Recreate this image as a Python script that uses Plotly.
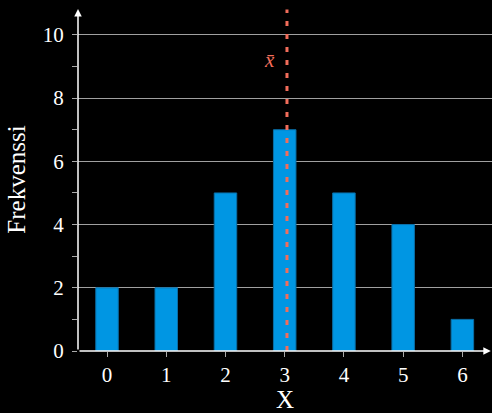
import plotly.graph_objects as go

x_values = [0, 1, 2, 3, 4, 5, 6]
frequencies = [2, 2, 5, 7, 5, 4, 1]
y_ticks = [0, 2, 4, 6, 8, 10]
x_title = "X"
y_title = "Frekvenssi"

mean = sum(x * f for x, f in zip(x_values, frequencies)) / sum(frequencies)

BLUE = "#0096e3"
EDGE = "#0a6ea6"
SALMON = "#f26d5b"
FONT = "Liberation Serif"

xr = [-0.49, 6.5]
yr = [0, 10.85]

fig = go.Figure()
fig.add_trace(go.Bar(x=x_values, y=frequencies, width=0.38,
                     marker=dict(color=BLUE, line=dict(color=EDGE, width=1))))

fig.add_shape(type="line", x0=mean, x1=mean, y0=0, y1=10.8, xref="x", yref="y",
              line=dict(color=SALMON, width=3, dash="5px,8px"), layer="above")

fig.add_annotation(x=2.75, y=9.2, text="<i>x̄</i>", showarrow=False,
                   font=dict(family=FONT, size=21, color=SALMON))

# axis arrows
fig.add_annotation(x=6.48, y=0, ax=xr[0], ay=0, xref="x", yref="y", axref="x", ayref="y",
                   text="", showarrow=True, arrowhead=2, arrowsize=1, arrowwidth=1.5,
                   arrowcolor="white")
fig.add_annotation(x=xr[0], y=10.82, ax=xr[0], ay=0, xref="x", yref="y", axref="x", ayref="y",
                   text="", showarrow=True, arrowhead=2, arrowsize=1, arrowwidth=1.5,
                   arrowcolor="white")

fig.update_layout(
    width=492, height=413,
    margin=dict(l=78, r=0, t=8, b=62),
    paper_bgcolor="black", plot_bgcolor="black",
    showlegend=False,
    font=dict(family=FONT, size=21, color="white"),
    xaxis=dict(range=xr, tickvals=x_values, ticktext=[str(v) for v in x_values],
               showgrid=False, zeroline=False, showline=False,
               ticks="outside", ticklen=5, tickcolor="#aaaaaa",
               title=dict(text=x_title, standoff=9),
               tickfont=dict(size=21)),
    yaxis=dict(range=yr, tickvals=y_ticks, ticktext=[str(v) for v in y_ticks],
               showgrid=True, gridcolor="#a0a0a0", gridwidth=1,
               zeroline=False, showline=False,
               ticks="outside", ticklen=5, tickcolor="#aaaaaa",
               ticklabelstandoff=4,
               minor=dict(tickvals=[1, 3, 5, 7, 9], ticks="outside", ticklen=5,
                          tickcolor="#aaaaaa", showgrid=False),
               title=dict(text=y_title, standoff=10),
               tickfont=dict(size=21)),
)

fig.write_html("out.html", config={"displayModeBar": False},
               post_script="document.body.style.margin='0';document.body.style.background='black';")
